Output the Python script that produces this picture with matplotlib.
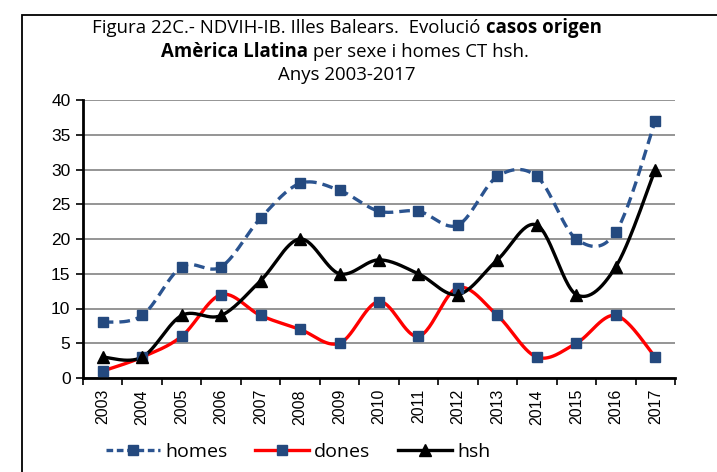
import numpy as np
import matplotlib
matplotlib.use("Agg")
import matplotlib.pyplot as plt
from matplotlib.lines import Line2D
from matplotlib.patches import Rectangle

years = ["2003", "2004", "2005", "2006", "2007", "2008", "2009", "2010",
         "2011", "2012", "2013", "2014", "2015", "2016", "2017"]
homes = [8, 9, 16, 16, 23, 28, 27, 24, 24, 22, 29, 29, 20, 21, 37]
dones = [1, 3, 6, 12, 9, 7, 5, 11, 6, 13, 9, 3, 5, 9, 3]
hsh = [3, 3, 9, 9, 14, 20, 15, 17, 15, 12, 17, 22, 12, 16, 30]


def smooth(xs, ys, n=30):
    """Bezier smoothing through every point (tension 1/6), like a spreadsheet 'smoothed line'."""
    pts = np.column_stack([np.asarray(xs, float), np.asarray(ys, float)])
    out = []
    for i in range(len(pts) - 1):
        p0 = pts[i - 1] if i > 0 else pts[i]
        p1, p2 = pts[i], pts[i + 1]
        p3 = pts[i + 2] if i + 2 < len(pts) else pts[i + 1]
        c1 = p1 + (p2 - p0) / 6.0
        c2 = p2 - (p3 - p1) / 6.0
        t = np.linspace(0, 1, n)[:, None]
        seg = ((1 - t) ** 3 * p1 + 3 * (1 - t) ** 2 * t * c1
               + 3 * (1 - t) * t ** 2 * c2 + t ** 3 * p2)
        out.append(seg if i == 0 else seg[1:])
    seg = np.vstack(out)
    return seg[:, 0], seg[:, 1]


plt.rcParams["font.family"] = ["Liberation Sans", "DejaVu Sans"]
TFONT = dict(family=["Open Sans", "DejaVu Sans"])

fig = plt.figure(figsize=(7.17, 4.72), dpi=100)
ax = fig.add_axes([83 / 717, 1 - 378 / 472, 592 / 717, 278 / 472])

x = np.arange(len(years))
blue = "#24497e"
dash_col = "#2b5490"

sx, sy = smooth(x, homes)
ax.plot(sx, sy, color=dash_col, lw=2.4, dashes=(3.2, 1.8), zorder=3)
ax.plot(x, homes, ls="none", marker="s", ms=7.5, color=blue, zorder=5)

sx, sy = smooth(x, dones)
ax.plot(sx, sy, color="#ff0000", lw=2.4, zorder=3)
ax.plot(x, dones, ls="none", marker="s", ms=7.5, color=blue, zorder=5)

sx, sy = smooth(x, hsh)
ax.plot(sx, sy, color="black", lw=2.4, zorder=4)
ax.plot(x, hsh, ls="none", marker="^", ms=8.5, color="black", zorder=6)

ax.set_xlim(-0.5, len(years) - 0.5)
ax.set_ylim(0, 40)
ax.set_yticks(np.arange(0, 41, 5))
ax.set_xticks(x)
ax.set_xticklabels(years, rotation=90, fontsize=11.5)
ax.set_xticks(np.arange(-0.5, len(years), 1), minor=True)
ax.tick_params(axis="x", which="major", length=0, pad=8)
ax.tick_params(axis="x", which="minor", length=5, width=1.2, color="black")
ax.tick_params(axis="y", length=5, width=1.2, labelsize=12.5, pad=4)
ax.grid(axis="y", color="#8c8c8c", lw=1.3)
ax.set_axisbelow(True)
for side in ("top", "right"):
    ax.spines[side].set_visible(False)
ax.spines["left"].set_linewidth(2)
ax.spines["bottom"].set_linewidth(2)


def title_line(runs, cx, y_px, size=13.4):
    """Place a line made of (text, weight) runs, centred on cx (figure pixels)."""
    renderer = fig.canvas.get_renderer()
    y = 1 - y_px / fig.bbox.height
    arts = [fig.text(0, y, s, weight=w, fontsize=size, va="baseline", **TFONT)
            for s, w in runs]
    widths = [a.get_window_extent(renderer).width for a in arts]
    left = cx - sum(widths) / 2
    for a, wd in zip(arts, widths):
        a.set_x(left / fig.bbox.width)
        left += wd


title_line([("Figura 22C.- NDVIH-IB. Illes Balears.  Evolució ", "normal"),
            ("casos origen", "bold")], 347, 33)
title_line([("Amèrica Llatina", "bold"),
            (" per sexe i homes CT hsh.", "normal")], 345, 57)
title_line([("Anys 2003-2017", "normal")], 347, 80)

handles = [
    Line2D([], [], color=dash_col, lw=2.4, dashes=(2.0, 1.1), marker="s", ms=7.5,
           markerfacecolor=blue, markeredgecolor=blue),
    Line2D([], [], color="#ff0000", lw=2.4, marker="s", ms=7.5,
           markerfacecolor=blue, markeredgecolor=blue),
    Line2D([], [], color="black", lw=2.4, marker="^", ms=8.5),
]
fig.legend(handles, ["homes", "dones", "hsh"], loc="center",
           bbox_to_anchor=(298 / 717, 1 - 452 / 472), ncol=3, frameon=False,
           handlelength=2.8, handletextpad=0.26, columnspacing=1.4,
           borderpad=0, prop=dict(size=14, **TFONT))

# outer frame of the chart area
fig.patches.append(Rectangle((22 / 717, -0.05), 1.2, 1 - 15 / 472 + 0.05,
                             transform=fig.transFigure, fill=False,
                             edgecolor="black", lw=1.3))

fig.savefig("out.png", dpi=100)
